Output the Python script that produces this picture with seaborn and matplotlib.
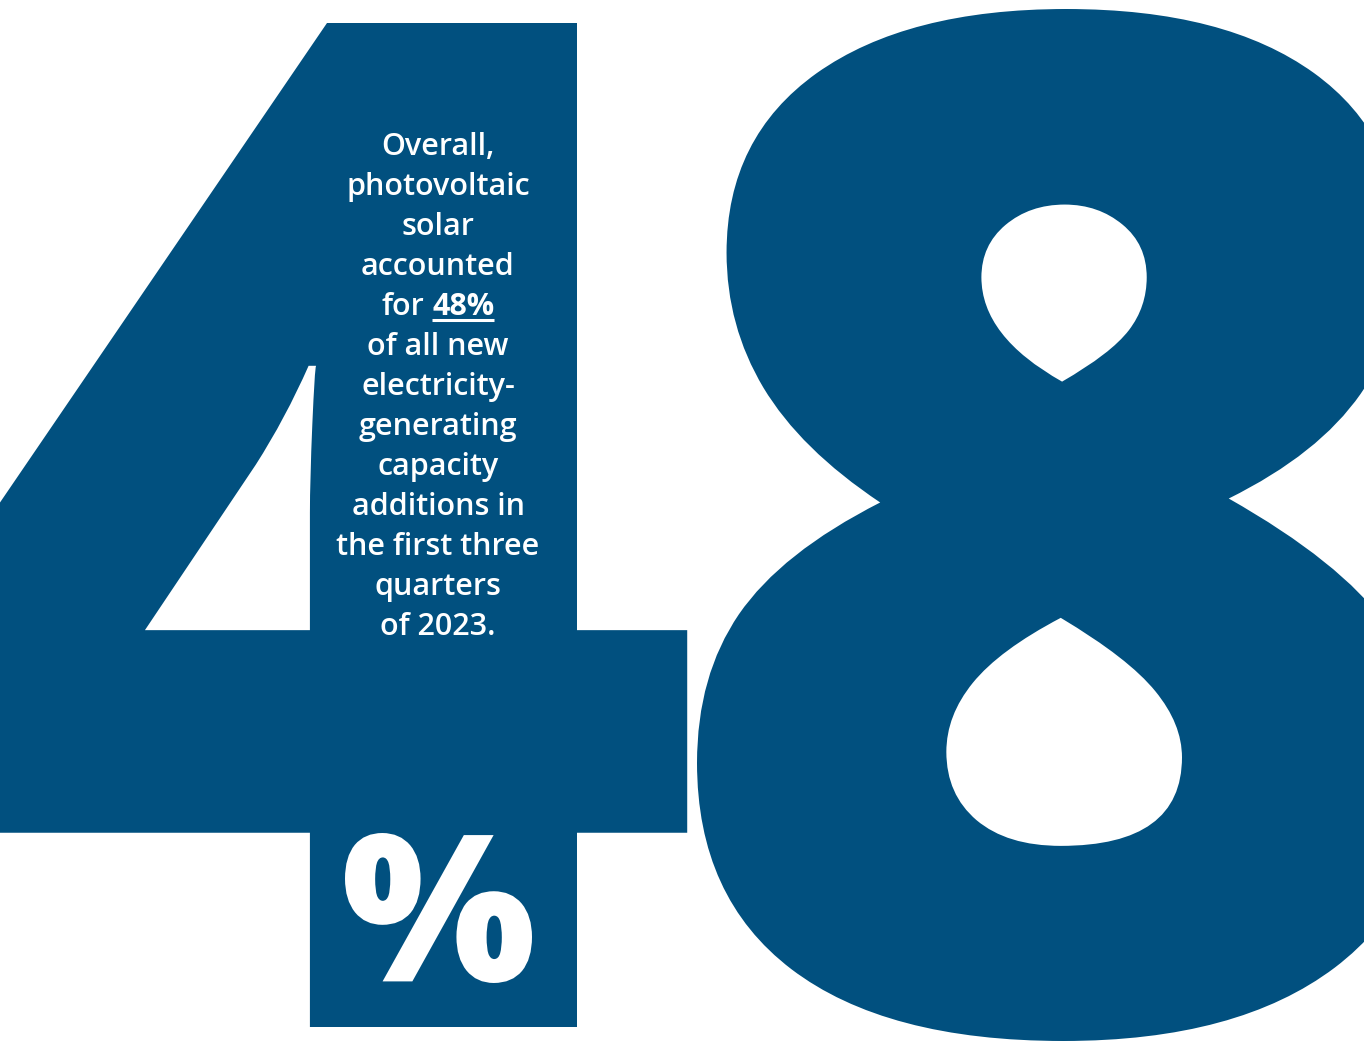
import numpy as np
import pandas as pd
import seaborn as sns
import matplotlib
matplotlib.use("Agg")
import matplotlib.pyplot as plt
from matplotlib.textpath import TextPath
from matplotlib.font_manager import FontProperties
from matplotlib.patches import PathPatch
from matplotlib.path import Path

# ---- data ----
share_value = 48
share_digits = [str(share_value)[0], str(share_value)[1]]
share_symbol = "%"
body_lines = [
    "Overall,",
    "photovoltaic",
    "solar",
    "accounted",
    "for {v}%",
    "of all new",
    "electricity-",
    "generating",
    "capacity",
    "additions in",
    "the first three",
    "quarters",
    "of 2023.",
]

BLUE = "#01507F"
W, H = 1364, 1042

sns.set_theme(style="white")
plt.rcParams['font.family'] = ['Open Sans', 'DejaVu Sans']

fig = plt.figure(figsize=(W / 100, H / 100), dpi=100)
fig.patch.set_facecolor("white")
ax = fig.add_axes([0, 0, 1, 1])
ax.set_xlim(0, W)
ax.set_ylim(H, 0)
ax.axis("off")


def glyph(ch, weight):
    return TextPath((0, 0), ch, size=100,
                    prop=FontProperties(family="Open Sans", weight=weight))


def place(tp, x_src, x_dst, y_src, y_dst, color, z=1):
    v = tp.vertices.copy()
    sx = (x_dst[1] - x_dst[0]) / (x_src[1] - x_src[0])
    sy = (y_dst[1] - y_dst[0]) / (y_src[1] - y_src[0])
    nv = np.empty_like(v)
    nv[:, 0] = x_dst[0] + (v[:, 0] - x_src[0]) * sx
    nv[:, 1] = y_dst[0] + (v[:, 1] - y_src[0]) * sy
    p = Path(nv, tp.codes)
    ax.add_patch(PathPatch(p, facecolor=color, edgecolor="none", zorder=z))


# digit "4"
tp4 = glyph(share_digits[0], "heavy")
e4 = tp4.get_extents()
v4 = tp4.vertices
top_x = v4[np.abs(v4[:, 1] - e4.y1) < 0.5, 0]
place(tp4, (top_x.min(), top_x.max()), (327, 577), (e4.y1, e4.y0), (23, 1027), BLUE)

# digit "8"
tp8 = glyph(share_digits[1], "heavy")
e8 = tp8.get_extents()
place(tp8, (e8.x0, e8.x1), (697, 1432), (e8.y1, e8.y0), (9, 1041), BLUE)

# percent sign
tpp = glyph(share_symbol, "heavy")
ep = tpp.get_extents()
place(tpp, (ep.x0, ep.x1), (345, 532), (ep.y1, ep.y0), (833, 983), "white", z=3)

# body text
fs = 22
cx = 438
base0, step = 155, 40
renderer = fig.canvas.get_renderer()


def text_w(s, weight):
    t = ax.text(0, 0, s, fontsize=fs, fontweight=weight)
    w = t.get_window_extent(renderer).width
    t.remove()
    return w


for i, line in enumerate(body_lines):
    y = base0 + i * step
    if "{v}" in line:
        pre = line.split("{v}")[0].rstrip()
        hl = f"{share_value}%"
        w_pre = text_w(pre, "semibold")
        w_sp = text_w("a a", "semibold") - text_w("aa", "semibold")
        w_hl = text_w(hl, "bold")
        total = w_pre + w_sp + w_hl
        x0 = cx - total / 2
        ax.text(x0, y, pre, ha="left", va="baseline", color="white",
                fontsize=fs, fontweight="semibold", zorder=4)
        xh = x0 + w_pre + w_sp
        ax.text(xh, y, hl, ha="left", va="baseline", color="white",
                fontsize=fs, fontweight="bold", zorder=4)
        ax.plot([xh, xh + w_hl], [y + 5, y + 5], color="white", lw=2.2,
                solid_capstyle="butt", zorder=4)
    else:
        ax.text(cx, y, line, ha="center", va="baseline", color="white",
                fontsize=fs, fontweight="semibold", zorder=4)

fig.savefig("out.png", dpi=100, facecolor="white")
